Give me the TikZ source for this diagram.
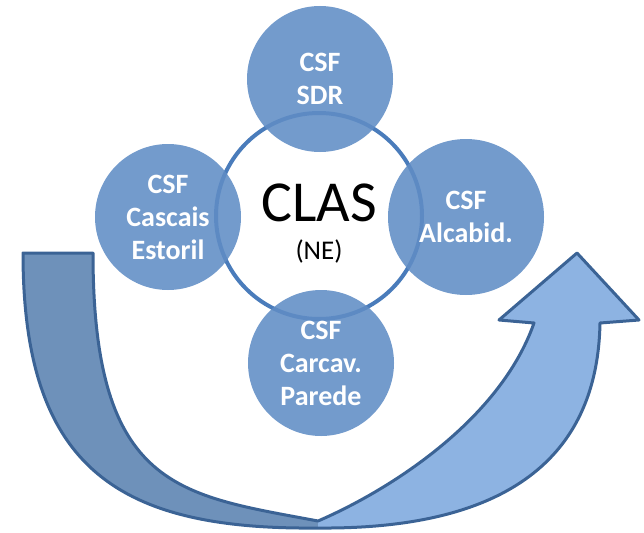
\documentclass[tikz,border=0pt]{standalone}
\usepackage{fontspec}
\setmainfont{Carlito}
\usepackage{tikz}
\usetikzlibrary{positioning}
\definecolor{ringblue}{RGB}{74,124,187}
\definecolor{csfblue}{RGB}{96,141,197}
\definecolor{arrowdark}{RGB}{110,145,186}
\definecolor{arrowlight}{RGB}{141,179,226}
\definecolor{arrowline}{RGB}{59,99,149}

\begin{document}
\begin{tikzpicture}[x=1pt,y=-1pt,
  csf/.style={circle,minimum size=146pt,inner sep=0pt,fill=csfblue,fill opacity=.88,
    text opacity=1,text=white,align=center,font=\fontsize{28}{33}\selectfont\bfseries},
  ring/.style={circle,minimum size=206pt,draw=ringblue,line width=4pt},
  arrowedge/.style={draw=arrowline,line width=3pt,line join=round}]
  \useasboundingbox (0,0) rectangle (644,532);
  \fill[arrowdark] (23,253) -- (93,253) .. controls (93,490) and (180,495) .. (318,521)
    -- (318,528) .. controls (120,530) and (23,470) .. (23,253) -- cycle;
  \fill[arrowlight] (318,521) .. controls (390,490) and (500,420) .. (534,323)
    -- (499,320) -- (577,253) -- (639,320) -- (600,323)
    .. controls (598,430) and (540,530) .. (318,528) -- cycle;
  \draw[arrowedge] (23,253) -- (93,253) .. controls (93,490) and (180,495) .. (318,521)
    .. controls (390,490) and (500,420) .. (534,323)
    -- (499,320) -- (577,253) -- (639,320) -- (600,323)
    .. controls (598,430) and (540,530) .. (318,528)
    .. controls (120,530) and (23,470) .. (23,253) -- cycle;
  \node[ring] (ring) at (319,216) {};
  \node[csf] (sdr) at (320,79) {CSF\\SDR};
  \node[csf] (cascais) at (168,217) {CSF\\Cascais\\Estoril};
  \node[csf,minimum size=156pt] (alcabid) at (466,217) {CSF\\Alcabid.};
  \node[csf] (carcav) at (321,363) {CSF\\Carcav.\\Parede};
  \node[font=\fontsize{58}{60}\selectfont] (clas) at (319,203) {CLAS};
  \node[font=\fontsize{27}{30}\selectfont] (ne) at (319,251) {(NE)};
\end{tikzpicture}
\end{document}
